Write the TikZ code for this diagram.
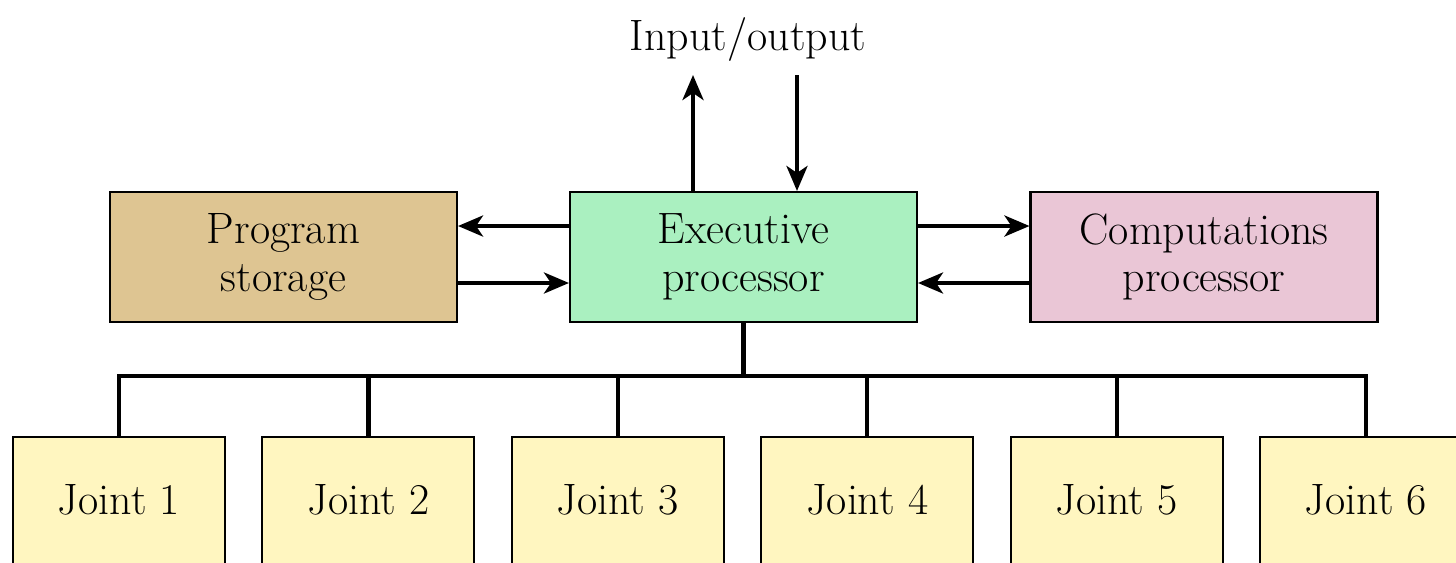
\documentclass[tikz,border=0pt]{standalone}
\usepackage{tikz}
\usetikzlibrary{arrows.meta,positioning}
\definecolor{storagetan}{RGB}{222,197,146}
\definecolor{execgreen}{RGB}{170,240,192}
\definecolor{comppink}{RGB}{234,198,214}
\definecolor{jointyellow}{RGB}{255,246,192}
\tikzset{
  unit/.style={draw, line width=1.2pt, inner sep=0pt, align=center,
    minimum width=6.94cm, minimum height=2.6cm,
    font=\fontsize{25}{27}\selectfont},
  jointbox/.style={draw, line width=1.2pt, inner sep=0pt, anchor=north,
    fill=jointyellow, minimum width=4.24cm, text height=1.54cm,
    text depth=1.8cm, font=\fontsize{25}{27}\selectfont},
  link/.style={line width=2.4pt},
  flow/.style={link, -{Stealth[length=0.5cm, width=0.42cm, inset=0.14cm]}}
}
\begin{document}
\begin{tikzpicture}[x=0.02cm, y=-0.02cm]
    \useasboundingbox (0,0) rectangle (1456,562);
    \clip (0,0) rectangle (1456,562);
    \fill[white] (0,0) rectangle (1456,562);
    \draw (748,40) node[font=\fontsize{25}{27}\selectfont] (io) {Input/output};
    \coordinate (out) at (693,75);
    \coordinate (in) at (797,75);
    \draw (283.5,257) node[unit, fill=storagetan] (store) {Program\\storage};
    \draw (743.5,257) node[unit, fill=execgreen] (exec) {Executive\\processor};
    \draw (1204,257) node[unit, fill=comppink] (comp) {Computations\\processor};
    \draw [flow] (exec.north -| out) -- (out);
    \draw [flow] (in) -- (exec.north -| in);
    \draw [flow] ([yshift=0.62cm]exec.west) -- ([yshift=0.62cm]store.east);
    \draw [flow] ([yshift=-0.52cm]store.east) -- ([yshift=-0.52cm]exec.west);
    \draw [flow] ([yshift=0.62cm]exec.east) -- ([yshift=0.62cm]comp.west);
    \draw [flow] ([yshift=-0.52cm]comp.west) -- ([yshift=-0.52cm]exec.east);
    % joints on the bus
    \coordinate (bus) at (742,376);
    \foreach \i in {1,...,6} {
      \draw ({119 + 249.4*(\i-1)},436) node[jointbox] (j\i) {Joint \i};
      \draw [link] (j\i.north) -- (j\i.north |- bus);
    }
    \draw [link] (exec.south) -- (exec.south |- bus);
    \draw [link, line cap=rect] (j1.north |- bus) -- (j6.north |- bus);
  \end{tikzpicture}
\end{document}
